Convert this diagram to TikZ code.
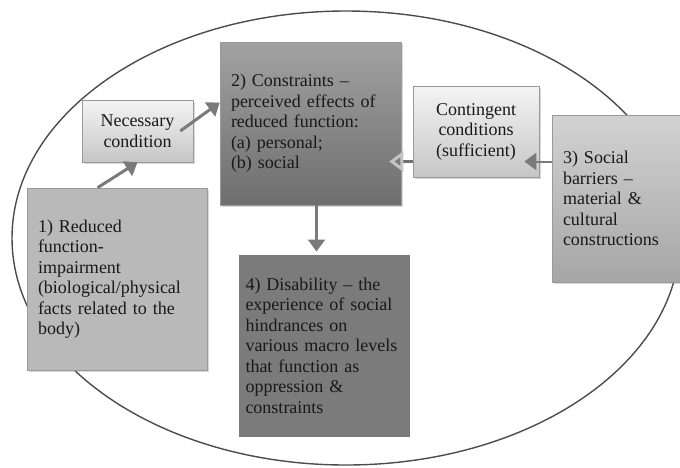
\documentclass[tikz,border=0pt]{standalone}
\usepackage{fontspec}
\setmainfont{Liberation Serif}
\usetikzlibrary{arrows.meta,shadows}

\definecolor{boxline}{HTML}{9A9A9A}
\definecolor{arrowgray}{HTML}{7A7A7A}
\definecolor{openarrow}{HTML}{707070}
\definecolor{opentip}{HTML}{C4C4C4}
\definecolor{condtop}{HTML}{F4F4F4}
\definecolor{condbot}{HTML}{C6C6C6}
\definecolor{cstrtop}{HTML}{A2A2A2}
\definecolor{cstrbot}{HTML}{6E6E6E}
\definecolor{redfill}{HTML}{B9B9B9}
\definecolor{bartop}{HTML}{D2D2D2}
\definecolor{barbot}{HTML}{A6A6A6}
\definecolor{disfill}{HTML}{7B7B7B}

\tikzset{
  txt/.style={font=\fontsize{18}{20.5}\selectfont, text=black!90},
  box/.style={txt, rectangle, draw=boxline, line width=0.6pt, inner xsep=11pt,
    align=left, drop shadow={opacity=0.3, shadow xshift=1.5pt, shadow yshift=-1.5pt}},
  condbox/.style={box, align=center, inner xsep=4pt, top color=condtop, bottom color=condbot},
  arr/.style={draw=arrowgray, line width=3pt, -{Triangle[width=17pt,length=12pt]}},
  openarr/.style={draw=openarrow, line width=2.5pt,
    -{Triangle[open,color=opentip,width=20pt,length=14pt,line width=3pt]}},
}

\begin{document}
\begin{tikzpicture}[x=1pt, y=-1pt]
    \useasboundingbox (0, 0) rectangle (680, 467);

    % outer ellipse
    \draw [black!70, line width=1.4pt] (346, 238) ellipse [x radius=334, y radius=227];

    % boxes
    \node [condbox, minimum width=111pt, minimum height=62pt] (need) at (137.5, 131)
        {Necessary\\condition};
    \node [box, minimum width=181pt, minimum height=163pt, text width=159pt,
        top color=cstrtop, bottom color=cstrbot] (constr) at (310.5, 123.5)
        {2) Constraints --\\perceived effects of\\reduced function:\\(a) personal;\\(b) social};
    \node [box, minimum width=180pt, minimum height=182pt, text width=158pt,
        fill=redfill] (reduced) at (117, 279)
        {1) Reduced\\function-\\impairment\\(biological/physical\\facts related to the\\body)};
    \node [condbox, minimum width=126pt, minimum height=91pt] (cont) at (476, 131.5)
        {Contingent\\conditions\\(sufficient)};
    \node [box, minimum width=132pt, minimum height=167pt, text width=110pt,
        top color=bartop, bottom color=barbot] (barriers) at (618, 198.5)
        {3) Social\\barriers --\\material \&\\cultural\\constructions};
    \node [box, draw=white, line width=3pt, inner xsep=7pt, minimum width=174pt,
        minimum height=185pt, text width=157pt, fill=disfill] (disab) at (324, 345.5)
        {4) Disability -- the\\experience of social\\hindrances on\\various macro levels\\that function as\\oppression \&\\constraints};

    % connectors
    \draw [arr] (reduced.102) -- (need.south);
    \draw [arr] ([xshift=-13pt]need.east) -- (constr.167);
    \draw [arr, line width=2.5pt] ([xshift=6pt]constr.south) -- ([xshift=6pt]constr.south |- disab.north);
    \draw [openarr, shorten >=-12pt] ([yshift=-30pt]cont.west) -- ([yshift=-30pt]cont.west -| constr.east);
    \draw [arr, line width=2pt, shorten >=-15pt] ([yshift=-30pt]cont.east -| barriers.west) -- ([yshift=-30pt]cont.east);
\end{tikzpicture}
\end{document}
